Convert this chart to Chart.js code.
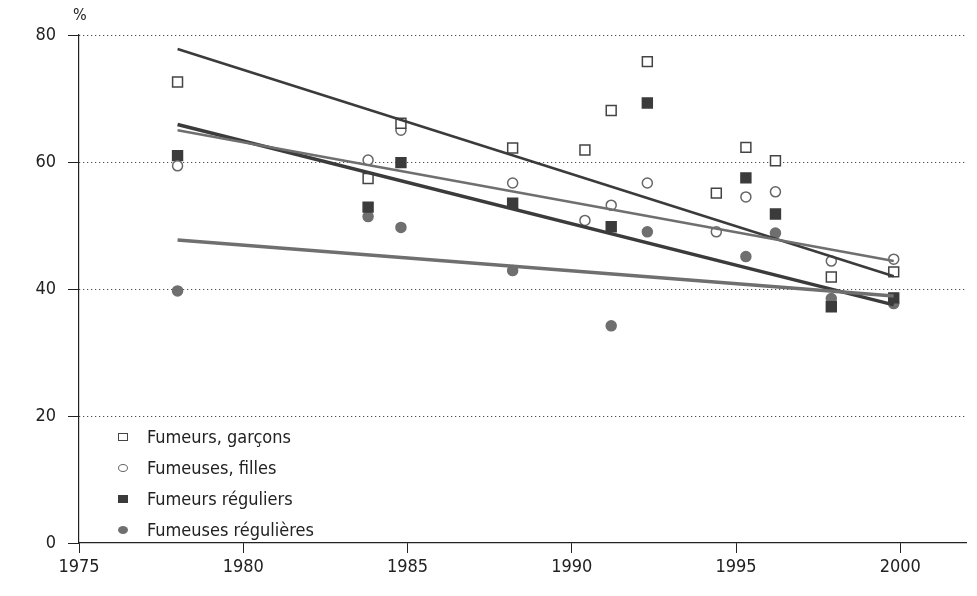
<!DOCTYPE html>
<html>
<head>
<meta charset="utf-8">
<script src="https://cdn.jsdelivr.net/npm/chart.js@4/dist/chart.umd.min.js"></script>
<style>
  body { margin: 0; background: #fff; }
  #wrap { position: relative; width: 977px; height: 596px; }
  #pct { position: absolute; left: 73px; top: 5px; font: 16px 'Liberation Sans Narrow', 'DejaVu Sans Condensed', sans-serif; color: #222; }
  #legend { position: absolute; left: 118px; top: 421px; font: 18px 'Liberation Sans Narrow', 'DejaVu Sans Condensed', sans-serif; color: #222; }
  #legend div { height: 31px; line-height: 26px; display: flex; align-items: center; }
  #legend span.m { display: inline-block; width: 10px; margin-right: 19px; box-sizing: border-box; }
</style>
</head>
<body>
<div id="wrap">
  <canvas id="c" width="977" height="596"></canvas>
  <div id="pct">%</div>
  <div id="legend"></div>
</div>
<script>
const seriesNames = ["Fumeurs, garçons", "Fumeuses, filles", "Fumeurs réguliers", "Fumeuses régulières"];
const xTicks = [1975, 1980, 1985, 1990, 1995, 2000];
const yTicks = [0, 20, 40, 60, 80];

const garconsX = [1978.0, 1983.8, 1984.8, 1988.2, 1990.4, 1991.2, 1992.3, 1994.4, 1995.3, 1996.2, 1997.9, 1999.8];
const garconsY = [72.6, 57.4, 66.1, 62.2, 61.9, 68.1, 75.8, 55.1, 62.3, 60.2, 41.9, 42.7];

const fillesX = [1978.0, 1983.8, 1984.8, 1988.2, 1990.4, 1991.2, 1992.3, 1994.4, 1995.3, 1996.2, 1997.9, 1999.8];
const fillesY = [59.4, 60.3, 65.0, 56.7, 50.8, 53.2, 56.7, 49.0, 54.5, 55.3, 44.4, 44.7];

const regGX = [1978.0, 1983.8, 1984.8, 1988.2, 1991.2, 1992.3, 1995.3, 1996.2, 1997.9, 1999.8];
const regGY = [61.0, 52.9, 59.9, 53.5, 49.8, 69.3, 57.5, 51.8, 37.2, 38.6];

const regFX = [1978.0, 1983.8, 1984.8, 1988.2, 1991.2, 1992.3, 1995.3, 1996.2, 1997.9, 1999.8];
const regFY = [39.7, 51.4, 49.7, 42.9, 34.2, 49.0, 45.1, 48.8, 38.5, 37.7];

// trend lines, start and end
const trendX = [1978.0, 1999.8];
const garconsTrend = [77.8, 42.0];
const fillesTrend = [65.0, 44.4];
const regGTrend = [65.9, 37.5];
const regFTrend = [47.7, 38.9];

const dark = "#3b3b3b";
const grey = "#6f6f6f";
const font = "'Liberation Sans Narrow', 'DejaVu Sans Condensed', sans-serif";

function pts(xs, ys) {
    return xs.map((x, i) => ({x: x, y: ys[i]}));
}

function trend(ys, color, w) {
    return {
        type: "line",
        data: pts(trendX, ys),
        borderColor: color,
        borderWidth: w,
        pointRadius: 0,
        fill: false
    };
}

function marks(xs, ys, style, fillColor, lineColor, r) {
    return {
        type: "scatter",
        data: pts(xs, ys),
        pointStyle: style,
        pointRadius: r,
        pointBackgroundColor: fillColor,
        pointBorderColor: lineColor,
        pointBorderWidth: 1.5
    };
}

new Chart(document.querySelector("#c"), {
    type: "scatter",
    data: {
        datasets: [
            trend(regFTrend, grey, 3.5),
            trend(fillesTrend, grey, 2.5),
            trend(regGTrend, dark, 3.5),
            trend(garconsTrend, dark, 2.5),
            marks(garconsX, garconsY, "rect", "#fff", "#444", 7),
            marks(fillesX, fillesY, "circle", "#fff", "#666", 5),
            marks(regGX, regGY, "rect", dark, dark, 7),
            marks(regFX, regFY, "circle", grey, grey, 5)
        ]
    },
    options: {
        responsive: false,
        animation: false,
        events: [],
        layout: {padding: {top: 35, right: 11, left: 0, bottom: 0}},
        plugins: {legend: {display: false}, tooltip: {enabled: false}},
        scales: {
            x: {
                type: "linear",
                min: 1975,
                max: 2002,
                afterBuildTicks: s => { s.ticks = xTicks.map(v => ({value: v})); },
                afterFit: s => { s.height = 53; },
                border: {color: "#222", width: 1.2},
                grid: {drawOnChartArea: false, drawTicks: true, tickLength: 10, tickColor: "#222"},
                ticks: {color: "#222", font: {family: font, size: 18}, padding: 4, maxRotation: 0,
                        callback: v => String(v)}
            },
            y: {
                min: 0,
                max: 80,
                afterBuildTicks: s => { s.ticks = yTicks.map(v => ({value: v})); },
                afterFit: s => { s.width = 79; },
                border: {color: "#222", width: 1.2, dash: [1, 3]},
                grid: {
                    drawOnChartArea: true,
                    color: c => c.tick && c.tick.value === 0 ? "rgba(0,0,0,0)" : "#222",
                    lineWidth: 1,
                    drawTicks: true,
                    tickLength: 11,
                    tickColor: "#222",
                    tickBorderDash: []
                },
                ticks: {color: "#222", font: {family: font, size: 18}, padding: 12}
            }
        }
    }
});

// legend
const legendMarks = [
    "height:8px;border:1.3px solid #444;background:#fff",
    "height:8px;border:1.3px solid #666;border-radius:50%;background:#fff",
    "height:8px;background:" + dark,
    "height:8px;border-radius:50%;background:" + grey
];
document.querySelector("#legend").innerHTML = seriesNames.map((n, i) =>
    '<div><span class="m" style="' + legendMarks[i] + '"></span>' + n + '</div>').join("");
</script>
</body>
</html>
